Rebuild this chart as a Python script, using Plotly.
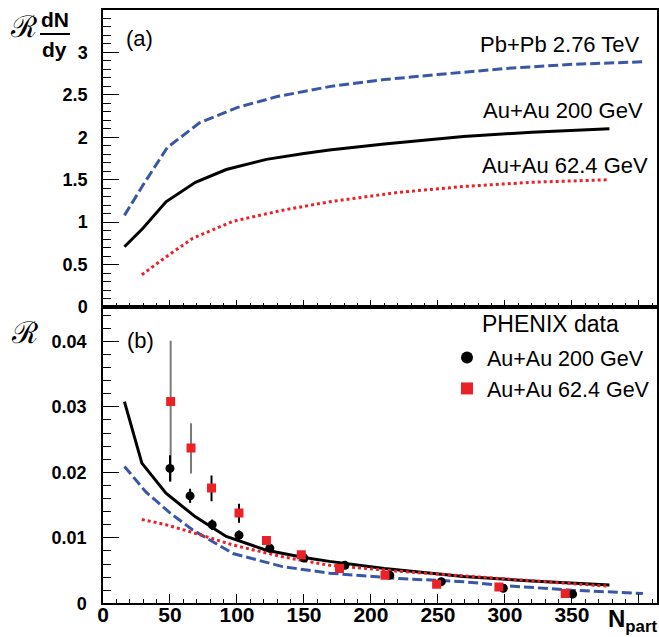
import plotly.graph_objects as go

# ---------------- data ----------------
# Panel (a): R * dN/dy vs N_part
pb_n = [16, 30, 48, 72, 100, 130, 170, 210, 250, 300, 350, 403]
pb_v = [1.08, 1.44, 1.88, 2.17, 2.35, 2.48, 2.60, 2.68, 2.74, 2.81, 2.86, 2.89]

au200_n = [16, 30, 47, 69, 92, 122, 150, 169, 210, 269, 320, 378]
au200_v = [0.71, 0.93, 1.24, 1.47, 1.62, 1.74, 1.81, 1.85, 1.92, 2.01, 2.06, 2.10]

au62_n = [29, 47, 67, 97, 134, 169, 220, 269, 320, 378]
au62_v = [0.38, 0.59, 0.81, 1.01, 1.14, 1.24, 1.35, 1.42, 1.47, 1.50]

# Panel (b): R vs N_part
rpb_n = [16, 32, 50, 67, 97, 134, 169, 220, 269, 300, 350, 403]
rpb_v = [0.0209, 0.0170, 0.0138, 0.0112, 0.0076, 0.0056, 0.0046, 0.0038, 0.0033, 0.0027, 0.0020, 0.0015]

r200_n = [16, 29, 47, 69, 92, 122, 150, 169, 210, 269, 320, 378]
r200_v = [0.0308, 0.0214, 0.0168, 0.0132, 0.0102, 0.0081, 0.0070, 0.0064, 0.0053, 0.0041, 0.0034, 0.0028]

r62_n = [29, 47, 67, 97, 134, 169, 220, 269, 320, 378]
r62_v = [0.0128, 0.0120, 0.0108, 0.0089, 0.0071, 0.0058, 0.0049, 0.0042, 0.0034, 0.0026]

# PHENIX data
d200_n = [50, 65, 81.5, 101.5, 124.5, 150, 180.5, 214, 252.5, 298.8, 350.5]
d200_v = [0.0206, 0.0164, 0.0120, 0.0104, 0.0084, 0.0069, 0.0058, 0.0043, 0.0033, 0.0023, 0.0014]
d200_e = [0.0020, 0.0011, 0.0008, 0.0007, 0.0004, 0.0003, 0.0003, 0.0002, 0.0002, 0.0001, 0.0001]

d62_n = [50.5, 65.7, 81, 101.5, 122, 148, 176.5, 210.5, 249, 295.5, 345]
d62_v = [0.0308, 0.0237, 0.0176, 0.0138, 0.0096, 0.0074, 0.0053, 0.0043, 0.0029, 0.0025, 0.0015]
d62_ep = [0.0093, 0.0038, 0.0019, 0.0014, 0.0006, 0.0004, 0.0003, 0.0002, 0.0002, 0.0001, 0.0001]
d62_em = [0.0122, 0.0039, 0.0020, 0.0015, 0.0006, 0.0004, 0.0003, 0.0002, 0.0002, 0.0001, 0.0001]

x_ticks = [0, 50, 100, 150, 200, 250, 300, 350, 400]
x_labels = ["0", "50", "100", "150", "200", "250", "300", "350", " "]
ya_ticks = [0, 0.5, 1, 1.5, 2, 2.5, 3]
ya_labels = ["0", "0.5", "1", "1.5", "2", "2.5", "3"]
yb_ticks = [0, 0.01, 0.02, 0.03, 0.04]
yb_labels = ["0", "0.01", "0.02", "0.03", "0.04"]

# ---------------- styling ----------------
W, H = 659, 637
BLUE = "#3a56a6"
RED = "#ea2228"
GRAY = "#7a7a7a"
FONT = "Liberation Sans"
TXT = 22

def px(x):
    return x / W

def py(y):
    return 1 - y / H

X0, X1 = px(103), px(657)
Y_TOP_A, Y_MID, Y_BOT_B = py(10), py(307), py(603.3)

fig = go.Figure()

# panel (a)
fig.add_trace(go.Scatter(x=pb_n, y=pb_v, mode="lines", xaxis="x2", yaxis="y2",
                         line=dict(color=BLUE, width=3, dash="10px,4px"), showlegend=False))
fig.add_trace(go.Scatter(x=au200_n, y=au200_v, mode="lines", xaxis="x2", yaxis="y2",
                         line=dict(color="black", width=3), showlegend=False))
fig.add_trace(go.Scatter(x=au62_n, y=au62_v, mode="lines", xaxis="x2", yaxis="y2",
                         line=dict(color=RED, width=3, dash="3px,3px"), showlegend=False))

# panel (b) curves
fig.add_trace(go.Scatter(x=rpb_n, y=rpb_v, mode="lines", xaxis="x", yaxis="y",
                         line=dict(color=BLUE, width=3, dash="10px,4px"), showlegend=False))
fig.add_trace(go.Scatter(x=r200_n, y=r200_v, mode="lines", xaxis="x", yaxis="y",
                         line=dict(color="black", width=3), showlegend=False))
fig.add_trace(go.Scatter(x=r62_n, y=r62_v, mode="lines", xaxis="x", yaxis="y",
                         line=dict(color=RED, width=3, dash="3px,3px"), showlegend=False))

# grey error bars for the two most peripheral 62.4 GeV points
fig.add_trace(go.Scatter(x=d62_n[:2], y=d62_v[:2], mode="markers", xaxis="x", yaxis="y",
                         marker=dict(color=RED, size=9, symbol="square", opacity=0),
                         error_y=dict(type="data", array=d62_ep[:2], arrayminus=d62_em[:2],
                                      color=GRAY, thickness=2, width=0),
                         showlegend=False, hoverinfo="skip"))

fig.add_trace(go.Scatter(x=d200_n, y=d200_v, mode="markers", xaxis="x", yaxis="y",
                         name="Au+Au 200 GeV",
                         marker=dict(color="black", size=9, symbol="circle"),
                         error_y=dict(type="data", array=d200_e, color="black", thickness=2, width=0)))

fig.add_trace(go.Scatter(x=d62_n, y=d62_v, mode="markers", xaxis="x", yaxis="y",
                         name="Au+Au 62.4 GeV",
                         marker=dict(color=RED, size=9, symbol="square"),
                         error_y=dict(type="data",
                                      array=[0, 0] + d62_ep[2:],
                                      arrayminus=[0, 0] + d62_em[2:],
                                      color="black", thickness=2, width=0)))

axis_common = dict(showline=True, linecolor="black", linewidth=1.5, mirror=True,
                   ticks="inside", tickcolor="black", tickwidth=1,
                   showgrid=False, zeroline=False, automargin=False)

fig.update_layout(
    width=W, height=H,
    margin=dict(l=0, r=0, t=0, b=0, autoexpand=False),
    paper_bgcolor="white", plot_bgcolor="white",
    font=dict(family=FONT, color="black"),
    xaxis=dict(domain=[X0, X1], anchor="y", range=[0, 413.5],
               tickmode="array", tickvals=x_ticks, ticktext=x_labels, ticklen=10,
               tickfont=dict(family=FONT, size=21, color="black", weight="bold"),
               ticklabelstandoff=-8,
               minor=dict(ticks="inside", ticklen=5, tickmode="linear", tick0=0, dtick=10,
                          tickcolor="black", tickwidth=1),
               **axis_common),
    yaxis=dict(domain=[Y_BOT_B, Y_MID], anchor="x", range=[0, 0.04524],
               tickmode="array", tickvals=yb_ticks, ticktext=yb_labels, ticklen=16,
               tickfont=dict(family=FONT, size=18, color="black", weight="bold"),
               ticklabelstandoff=11,
               minor=dict(ticks="inside", ticklen=8, tickmode="linear", tick0=0, dtick=0.002,
                          tickcolor="black", tickwidth=1),
               **axis_common),
    xaxis2=dict(domain=[X0, X1], anchor="y2", range=[0, 413.5],
                tickmode="array", tickvals=x_ticks, ticklen=7, showticklabels=False,
                minor=dict(ticks="inside", ticklen=4, tickmode="linear", tick0=0, dtick=10,
                           tickcolor="black", tickwidth=1),
                **axis_common),
    yaxis2=dict(domain=[Y_MID, Y_TOP_A], anchor="x2", range=[0, 3.5],
                tickmode="array", tickvals=ya_ticks, ticktext=ya_labels, ticklen=16,
                tickfont=dict(family=FONT, size=18, color="black", weight="bold"),
                ticklabelstandoff=10,
                minor=dict(ticks="inside", ticklen=8, tickmode="linear", tick0=0, dtick=0.1,
                           tickcolor="black", tickwidth=1),
                **axis_common),
    showlegend=True,
    legend=dict(x=px(447), y=py(337), xanchor="left", yanchor="top",
                bgcolor="rgba(0,0,0,0)", borderwidth=0,
                font=dict(family=FONT, size=21.5, color="black"),
                tracegroupgap=0, itemsizing="constant"),
)

ann = []
def text(x, y, s, size=TXT, xanchor="left", yanchor="middle", bold=False, family=FONT):
    ann.append(dict(x=px(x), y=py(y), xref="paper", yref="paper", text=s, showarrow=False,
                    xanchor=xanchor, yanchor=yanchor,
                    font=dict(family=family, size=size, color="black",
                              weight="bold" if bold else "normal")))

text(124, 39, "(a)")
text(642, 44, "Pb+Pb 2.76 TeV", xanchor="right")
text(645, 110, "Au+Au 200 GeV", xanchor="right")
text(650, 165, "Au+Au 62.4 GeV", xanchor="right")
text(125, 340, "(b)")
text(480, 324, "PHENIX data", size=23)

# axis titles
text(23, 27, "ℛ", size=30, xanchor="center", family="DejaVu Serif")
text(55, 20, "dN", size=21, xanchor="center", bold=True)
text(54, 50, "dy", size=21, xanchor="center", bold=True)
text(24, 332, "ℛ", size=30, xanchor="center", family="DejaVu Serif")
text(659, 620, "N<sub>part</sub>", size=24, xanchor="right", bold=True)

fig.update_layout(annotations=ann)
fig.add_shape(type="line", xref="paper", yref="paper",
              x0=px(40), x1=px(70), y0=py(34), y1=py(34),
              line=dict(color="black", width=2))

fig.write_html("out.html", config={"displayModeBar": False},
               post_script="document.body.style.margin='0';document.body.style.overflow='hidden';")
